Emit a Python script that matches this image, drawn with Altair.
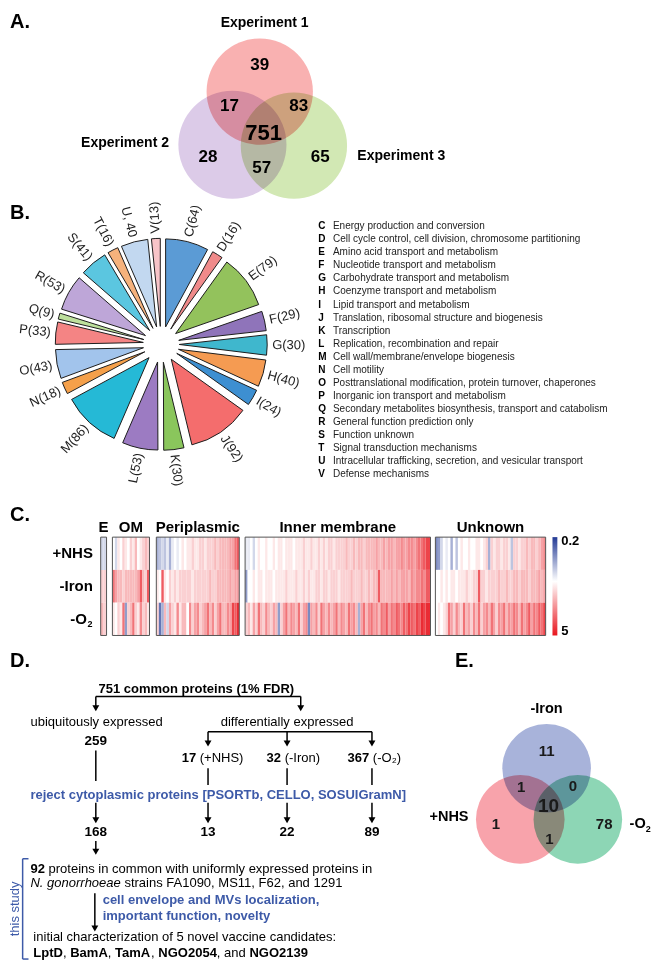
import math
import altair as alt
import pandas as pd

FONT = "Liberation Sans"
# figure coords (660x970 reference) -> chart coords (644x954 plot area inside 8px page margin)
SX, SY = 644 / 660, 954 / 970


def PX(x):
    return x * SX


def PY(y):
    return y * SY


# ---------------- DATA ----------------
# Panel A (Venn of three experiments)
vennA_sets = ["Experiment 1", "Experiment 2", "Experiment 3"]
vennA_counts = [39, 17, 83, 751, 28, 57, 65]  # 1 only, 1&2, 1&3, all, 2 only, 2&3, 3 only

# Panel B (COG categories)
cog_codes = ["C", "D", "E", "F", "G", "H", "I", "J", "K", "L",
             "M", "N", "O", "P", "Q", "R", "S", "T", "U", "V"]
cog_counts = [64, 16, 79, 29, 30, 40, 24, 92, 30, 53,
              86, 18, 43, 33, 9, 53, 41, 16, 40, 13]
cog_names = [
    "Energy production and conversion",
    "Cell cycle control, cell division, chromosome partitioning",
    "Amino acid transport and metabolism",
    "Nucleotide transport and metabolism",
    "Carbohydrate transport and metabolism",
    "Coenzyme transport and metabolism",
    "Lipid transport and metabolism",
    "Translation, ribosomal structure and biogenesis",
    "Transcription",
    "Replication, recombination and repair",
    "Cell wall/membrane/envelope biogenesis",
    "Cell motility",
    "Posttranslational modification, protein turnover, chaperones",
    "Inorganic ion transport and metabolism",
    "Secondary metabolites biosynthesis, transport and catabolism",
    "General function prediction only",
    "Function unknown",
    "Signal transduction mechanisms",
    "Intracellular trafficking, secretion, and vesicular transport",
    "Defense mechanisms",
]
cog_colors = ["#5b9bd5", "#f08a8a", "#93c25c", "#8f74ba", "#3fb7cd", "#f59b52",
              "#3d8fd1", "#f46d6d", "#8ac65c", "#9c7bc2", "#25b9d6", "#f5a04a",
              "#a2c4ec", "#f48484", "#bde09c", "#bea6d8", "#5bc6e0", "#f6b27c",
              "#c2d8f0", "#f8c4c8"]

# Panel C (heatmap, level = 10*log5(ratio): -10 -> 0.2, +10 -> 5)
heat_rows = ["+NHS", "-Iron", "-O2"]
heat_groups = ["E", "OM", "Periplasmic", "Inner membrane", "Unknown"]
E_nhs = [-2, -2]
E_iron = [2, 2]
E_o2 = [3, 2]
OM_nhs = [0, -2, 1, 0, 2, 1, 0, 2, 1, 3, 0, 1, 2, 3, 2]
OM_iron = [6, 4, 3, 3, 2, 3, 3, 3, 3, 3, 4, 7, 3, 2, 7]
OM_o2 = [1, 0, 2, 1, 6, -5, 2, 3, 6, 2, 1, 5, 2, 3, 1]
PE_nhs = [-4, -3, -2, -3, -1, -4, -1, 0, -1, 0, 1, 0, 1, 1, 2, 1, 1, 2, 2, 1,
          2, 2, 2, 3, 2, 3, 3, 3, 3, 4, 4, 6, 7]
PE_iron = [1, 0, 7, 1, 0, 2, 1, 2, 1, 2, 2, 2, 2, 2, 1, 2, 2, 2, 2, 2,
           2, 3, 2, 2, 3, 3, 3, 3, 3, 4, 3, 4, 4]
PE_o2 = [2, -7, -4, 3, -2, 4, 2, 1, 5, 1, 3, 3, 0, 5, 2, 4, 5, 2, 3, 4,
         6, 3, 5, 2, 4, 6, 3, 3, 5, 4, 8, 7, 9]
IM_nhs = [-1, -1, 0, -2, 0, 1, 0, 0, 1, 0, 0, 1, 0, 1, 1, 0, 1, 1, 1, 0,
          1, 1, 1, 2, 1, 1, 2, 1, 1, 2, 1, 2, 1, 2, 2, 1, 2, 2, 2, 2,
          3, 2, 2, 3, 2, 3, 3, 2, 3, 3, 3, 3, 4, 3, 3, 4, 3, 4, 4, 3,
          4, 4, 5, 4, 4, 5, 5, 4, 5, 6, 6, 7, 8, 8]
IM_iron = [-5, 0, 0, 1, 0, 1, 1, 0, 1, 1, 1, 0, 1, 1, 1, 1, 2, 1, 1, 1,
           2, 1, 1, 2, 1, 2, 1, 1, 2, 2, 1, 2, 2, 1, 2, 2, 2, 1, 2, 2,
           2, 2, 3, 2, 2, 2, 3, 2, 2, 3, 2, 3, 3, 7, 3, 3, 3, 3, 4, 3,
           4, 3, 4, 4, 4, 3, 5, 4, 5, 5, 6, 5, 7, 7]
IM_o2 = [2, 3, 1, 4, 2, 6, 3, 2, 5, 3, 2, 4, 3, -5, 2, 4, 6, 3, 5, 4,
         3, 6, 2, 4, 5, -6, 4, 3, 5, 2, 6, 4, 3, 5, 3, 4, 6, 3, 5, 4,
         3, 6, 4, 5, 3, -4, 4, 6, 3, 5, 6, 4, 5, 3, 6, 5, 7, 4, 6, 5,
         7, 6, 5, 7, 6, 8, 7, 6, 8, 7, 9, 8, 9, 9]
UN_nhs = [-6, -5, -2, 0, -1, 0, -4, 0, -3, 0, 1, 0, 0, 1, 0, 0, 1, 1, 0, 1,
          2, -4, 2, 1, 2, 2, 1, 2, 2, 1, -3, 2, 2, 1, 2, 2, 3, 2, 3, 3,
          2, 3, 4, 5]
UN_iron = [0, 0, 1, 0, 1, 0, 1, 1, 0, 1, 1, 1, 2, 1, 1, 2, 2, 7, 2, 2,
           1, 2, 2, 2, 2, 3, 2, 2, 3, 2, 2, 3, 3, 2, 3, 3, 3, 2, 3, 3,
           3, 4, 3, 4]
UN_o2 = [0, 1, 0, 1, 2, 6, 4, 2, 5, 3, 2, 6, 3, 4, 2, 5, 3, 6, 2, 4,
         5, 3, 6, 4, 2, 5, 4, 6, 3, 5, 4, 6, 5, 3, 6, 4, 5, 7, 4, 6,
         5, 7, 6, 8]
heat_scale_labels = ["0.2", "5"]

# Panel D (flow)
flow_total = 751
flow_ubiq, flow_ubiq_kept = 259, 168
flow_diff = [17, 32, 367]
flow_diff_kept = [13, 22, 89]
flow_common = 92

# Panel E (Venn of differential sets)
vennE_sets = ["-Iron", "+NHS", "-O"]
vennE_counts = [11, 1, 0, 10, 1, 78, 1]  # Iron only, Iron&NHS, Iron&O2, all, NHS only, O2 only, NHS&O2

# ---------------- helpers ----------------
AR_N = {' ': 278, '(': 333, ')': 333, '+': 584, '-': 333, ',': 278, '.': 278, ':': 278,
        '%': 889, '[': 278, ']': 278, '₂': 350,
        'A': 667, 'B': 667, 'C': 722, 'D': 722, 'E': 667, 'F': 611, 'G': 778, 'H': 722,
        'I': 278, 'J': 500, 'K': 667, 'L': 556, 'M': 833, 'N': 722, 'O': 778, 'P': 667,
        'R': 722, 'S': 667, 'T': 611, 'U': 722, 'V': 667, 'W': 944,
        'a': 556, 'b': 556, 'c': 500, 'd': 556, 'e': 556, 'f': 278, 'g': 556, 'h': 556,
        'i': 222, 'j': 222, 'k': 500, 'l': 222, 'm': 833, 'n': 556, 'o': 556, 'p': 556,
        'q': 556, 'r': 333, 's': 500, 't': 278, 'u': 556, 'v': 500, 'w': 722, 'x': 500,
        'y': 500, 'z': 500}
AR_B = {' ': 278, '(': 333, ')': 333, '+': 584, '-': 333, ',': 278, '.': 278, ':': 333,
        '%': 889, 'A': 722, 'B': 722, 'C': 722, 'D': 722, 'E': 667, 'F': 611, 'G': 778,
        'H': 722, 'I': 278, 'L': 611, 'M': 833, 'N': 722, 'O': 778, 'P': 667, 'R': 722,
        'S': 667, 'T': 611, 'U': 722, 'a': 556, 'b': 611, 'c': 556, 'd': 611, 'e': 556,
        'f': 333, 'g': 611, 'h': 611, 'i': 278, 'k': 556, 'l': 278, 'm': 889, 'n': 611,
        'o': 611, 'p': 611, 'r': 389, 's': 556, 't': 333, 'u': 611, 'v': 556, 'w': 778,
        'y': 556}


def tw(s, size, bold=False):
    tab = AR_B if bold else AR_N
    return sum(tab.get(ch, 556) for ch in s) * size / 1000.0


texts = []


def T(x, y, t, size=13, bold=False, italic=False, color="#000000", align="left", angle=0.0, raw=False):
    cx = x if raw else PX(x)
    cy = y if raw else PY(y)
    texts.append(dict(x=cx, y=cy, t=str(t), size=size, bold=bold, italic=italic,
                      color=color, align=align, angle=angle % 360))


def segs(x, y, parts, size=13, color="#000000"):
    cx = PX(x)
    for s, st in parts:
        b = st == "b"
        lead = len(s) - len(s.lstrip(" "))
        core = s.strip(" ")
        if core:
            T(cx + tw(" " * lead, size, b), PY(y), core, size, bold=b, italic=(st == "i"),
              color=color, raw=True)
        cx += tw(s, size, b)


rules = []


def R(x1, y1, x2, y2, color="#000000", w=1.5):
    rules.append(dict(x=PX(x1), y=PY(y1), x2=PX(x2), y2=PY(y2), c=color, w=w))


heads = []


def H(x, y):
    heads.append(dict(x=PX(x), y=PY(y) - 4))


BLUE = "#3d5aa8"
layers = []

# ---------------- Panel labels ----------------
for lab, (px, py) in zip(["A.", "B.", "C.", "D.", "E."],
                         [(2, 14), (2, 208), (2, 516), (2, 664), (458, 664)]):
    T(px, py, lab, 20, bold=True)

# ---------------- Panel A: Venn ----------------
circA = pd.DataFrame({
    "x": [PX(293), PX(230), PX(258)],
    "y": [PY(140), PY(139), PY(85)],
    "s": [math.pi * 60 ** 2, math.pi * 61 ** 2, math.pi * 60 ** 2],
    "c": ["#d2e8b4", "#dccbe8", "#f9b1b1"],
    "k": [0, 1, 2],
})
layers.append(alt.Chart(circA).mark_circle(opacity=1, blend="multiply").encode(
    x=alt.X("x:Q", scale=None, axis=None), y=alt.Y("y:Q", scale=None, axis=None),
    size=alt.Size("s:Q", scale=None, legend=None),
    color=alt.Color("c:N", scale=None, legend=None),
    order=alt.Order("k:Q")))
T(263, 15, vennA_sets[0], 14, bold=True, align="center")
T(165, 137, vennA_sets[1], 14, bold=True, align="right")
T(358, 150, vennA_sets[2], 14, bold=True, align="left")
posA = [(258, 58), (227, 100), (298, 100), (262, 127), (205, 152), (260, 163), (320, 152)]
for n, (px, py) in zip(vennA_counts, posA):
    T(px, py, n, 22 if n == 751 else 17, bold=True, align="center")

# ---------------- Panel B: exploded pie ----------------
CX, CY = PX(157), PY(342)
EXPL, RAD, LR = 18, 88, 111
total = sum(cog_counts)
cum = 0
pie_rows = []
for code, n, col in zip(cog_codes, cog_counts, cog_colors):
    t0 = 2 * math.pi * cum / total
    t1 = 2 * math.pi * (cum + n) / total
    mid = (t0 + t1) / 2
    pie_rows.append(dict(code=code, n=n, t0=t0, t1=t1, col=col,
                         ax=CX + EXPL * math.sin(mid), ay=CY - EXPL * math.cos(mid), mid=mid))
    cum += n
pie_df = pd.DataFrame(pie_rows)
for r in pie_rows:
    layers.append(alt.Chart(pie_df).transform_filter(alt.datum.code == r["code"]).mark_arc(
        outerRadius=RAD, innerRadius=0, stroke="#1e1e1e", strokeWidth=1, fill=r["col"],
        opacity=1).encode(
        theta=alt.Theta("t0:Q", scale=None), theta2=alt.Theta2("t1:Q"),
        x=alt.value(r["ax"]), y=alt.value(r["ay"])))
    deg = math.degrees(r["mid"])
    right = deg < 180 or deg > 350
    lab = f"{r['code']}({r['n']})" if r["code"] != "U" else f"{r['code']}, {r['n']}"
    T(CX + LR * math.sin(r["mid"]), CY - LR * math.cos(r["mid"]), lab, 13,
      color="#222222", align="left" if right else "right",
      angle=(deg - 90) if right else (deg - 270), raw=True)

for k, (code, name) in enumerate(zip(cog_codes, cog_names)):
    yy = 222 + 13.25 * k
    T(318, yy, code, 10, bold=True)
    T(333, yy, name, 10, color="#222222")

# ---------------- Panel C: heatmap ----------------
cscale = alt.Scale(domain=[-10, 0, 10], range=["#233a95", "#ffffff", "#e8151d"],
                   interpolate="rgb")
heat_data = {
    "E": [E_nhs, E_iron, E_o2],
    "OM": [OM_nhs, OM_iron, OM_o2],
    "Periplasmic": [PE_nhs, PE_iron, PE_o2],
    "Inner membrane": [IM_nhs, IM_iron, IM_o2],
    "Unknown": [UN_nhs, UN_iron, UN_o2],
}
heat_x = {"E": (95, 101), "OM": (107, 145), "Periplasmic": (152, 237),
          "Inner membrane": (243, 433), "Unknown": (438, 551)}
HY0, HY1 = 538, 638
for g in heat_groups:
    rows = heat_data[g]
    n = len(rows[0])
    recs = []
    for ri, vals in enumerate(rows):
        for i, v in enumerate(vals):
            recs.append(dict(i=i, i2=i + 1, r0=ri, r1=ri + 1, v=v))
    x0, x1 = heat_x[g]
    xs = alt.Scale(domain=[0, n], range=[PX(x0), PX(x1)], nice=False, zero=False)
    ys = alt.Scale(domain=[0, 3], range=[PY(HY0), PY(HY1)], nice=False, zero=False)
    layers.append(alt.Chart(pd.DataFrame(recs)).mark_rect(strokeWidth=0).encode(
        x=alt.X("i:Q", scale=xs, axis=None), x2="i2:Q",
        y=alt.Y("r0:Q", scale=ys, axis=None), y2="r1:Q",
        color=alt.Color("v:Q", scale=cscale, legend=None)))
    layers.append(alt.Chart(pd.DataFrame({"i": [0], "i2": [n], "r0": [0], "r1": [3]})).mark_rect(
        fillOpacity=0, stroke="#555555", strokeWidth=1).encode(
        x=alt.X("i:Q", scale=xs, axis=None), x2="i2:Q",
        y=alt.Y("r0:Q", scale=ys, axis=None), y2="r1:Q"))
    T((x0 + x1) / 2, 528, g, 15, bold=True, align="center")

T(87, 554, heat_rows[0], 15, bold=True, align="right")
T(87, 588, heat_rows[1], 15, bold=True, align="right")
T(81, 621, "-O", 15, bold=True, align="right")
T(81.5, 626, "2", 9, bold=True, align="left")

grad = alt.Gradient(gradient="linear",
                    stops=[alt.GradientStop(color="#233a95", offset=0),
                           alt.GradientStop(color="#ffffff", offset=0.45),
                           alt.GradientStop(color="#e8151d", offset=1)],
                    x1=0, x2=0, y1=0, y2=1)
layers.append(alt.Chart(pd.DataFrame({"a": [0]})).mark_rect(color=grad).encode(
    x=alt.value(PX(558)), x2=alt.value(PX(563)), y=alt.value(PY(HY0)), y2=alt.value(PY(HY1))))
T(567, 542, heat_scale_labels[0], 13, bold=True)
T(567, 633, heat_scale_labels[1], 13, bold=True)

# ---------------- Panel D: flow ----------------
T(193, 692, f"{flow_total} common proteins (1% FDR)", 13, bold=True, align="center")
R(90, 700, 300, 700)
R(90, 700, 90, 712)
R(300, 700, 300, 712)
H(90, 716)
H(300, 716)
T(23, 726, "ubiquitously expressed", 13)
T(218, 726, "differentially expressed", 13)
T(90, 745, flow_ubiq, 13.5, bold=True, align="center")
R(90, 755, 90, 786)
R(205, 736, 373, 736)
diff_x = [205, 286, 373]
diff_lab = [" (+NHS)", " (-Iron)", " (-O₂)"]
diff_start = [178, 265, 348]
for xx, n, lab, sx in zip(diff_x, flow_diff, diff_lab, diff_start):
    R(xx, 736, xx, 748)
    H(xx, 752)
    segs(sx, 763, [(str(n), "b"), (lab, "n")], 13)
    R(xx, 773, xx, 790)
T(23, 800, "reject cytoplasmic proteins [PSORTb, CELLO, SOSUIGramN]", 13, bold=True, color=BLUE)
for xx in [90] + diff_x:
    R(xx, 808, xx, 826)
    H(xx, 830)
T(90, 838, flow_ubiq_kept, 13.5, bold=True, align="center")
for xx, n in zip(diff_x, flow_diff_kept):
    T(xx, 838, n, 13.5, bold=True, align="center")
R(90, 847, 90, 858)
H(90, 862)
R(15, 865, 15, 967, BLUE, 1.5)
R(15, 865, 21, 865, BLUE, 1.5)
R(15, 967, 21, 967, BLUE, 1.5)
T(7, 916, "this study", 13, color=BLUE, align="center", angle=270)
segs(23, 875, [(str(flow_common), "b"),
               (" proteins in common with uniformly expressed proteins in", "n")], 13)
segs(23, 890, [("N. gonorrhoeae", "i"), (" strains FA1090, MS11, F62, and 1291", "n")], 13)
R(89, 900, 89, 936)
H(89, 940)
T(97, 907, "cell envelope and MVs localization,", 13, bold=True, color=BLUE)
T(97, 923, "important function, novelty", 13, bold=True, color=BLUE)
T(26, 945, "initial characterization of 5 novel vaccine candidates:", 13)
segs(26, 961, [("LptD", "b"), (", ", "n"), ("BamA", "b"), (", ", "n"), ("TamA", "b"),
               (", ", "n"), ("NGO2054", "b"), (", and ", "n"), ("NGO2139", "b")], 13)

# ---------------- Panel E: Venn ----------------
circE = pd.DataFrame({
    "x": [PX(552), PX(525), PX(584)],
    "y": [PY(773), PY(825), PY(825)],
    "s": [math.pi * 50 ** 2] * 3,
    "c": ["#a8b3da", "#f8a3ab", "#8dd6b5"],
    "k": [0, 1, 2],
})
layers.append(alt.Chart(circE).mark_circle(opacity=1, blend="multiply").encode(
    x=alt.X("x:Q", scale=None, axis=None), y=alt.Y("y:Q", scale=None, axis=None),
    size=alt.Size("s:Q", scale=None, legend=None),
    color=alt.Color("c:N", scale=None, legend=None),
    order=alt.Order("k:Q")))
T(552, 713, vennE_sets[0], 14.5, bold=True, align="center")
T(472, 823, vennE_sets[1], 14.5, bold=True, align="right")
T(637, 830, vennE_sets[2], 14.5, bold=True, align="left")
T(PX(637) + tw("-O", 14.5, True), PY(835), "2", 9, bold=True, align="left", raw=True)
posE = [(552, 755), (526, 792), (579, 791), (554, 811), (500, 830), (611, 830), (555, 845)]
for k, (n, (px, py)) in enumerate(zip(vennE_counts, posE)):
    T(px, py, n, 19 if k == 3 else 15, bold=True, align="center", color="#1a1a1a")

# ---------------- rules, arrowheads, texts ----------------
layers.append(alt.Chart(pd.DataFrame(rules)).mark_rule(strokeCap="butt").encode(
    x=alt.X("x:Q", scale=None, axis=None), y=alt.Y("y:Q", scale=None, axis=None),
    x2="x2:Q", y2="y2:Q",
    color=alt.Color("c:N", scale=None, legend=None),
    strokeWidth=alt.StrokeWidth("w:Q", scale=None, legend=None)))
layers.append(alt.Chart(pd.DataFrame(heads)).mark_point(
    shape="triangle-down", filled=True, size=48, opacity=1, color="#000000").encode(
    x=alt.X("x:Q", scale=None, axis=None), y=alt.Y("y:Q", scale=None, axis=None)))

tdf = pd.DataFrame(texts)
for (b, it, al), g in tdf.groupby(["bold", "italic", "align"]):
    g = g[["x", "y", "t", "size", "color", "angle"]].reset_index(drop=True)
    layers.append(alt.Chart(g).mark_text(
        font=FONT, fontWeight="bold" if b else "normal",
        fontStyle="italic" if it else "normal", align=al, baseline="middle").encode(
        x=alt.X("x:Q", scale=None, axis=None), y=alt.Y("y:Q", scale=None, axis=None),
        text=alt.Text("t:N"),
        size=alt.Size("size:Q", scale=None, legend=None),
        color=alt.Color("color:N", scale=None, legend=None),
        angle=alt.Angle("angle:Q", scale=None)))

chart = alt.layer(*layers).resolve_scale(
    x="independent", y="independent", color="independent", size="independent",
    theta="independent", angle="independent", strokeWidth="independent"
).properties(
    width=644, height=954, padding=0,
    autosize=alt.AutoSizeParams(type="none")
).configure_view(stroke=None)

chart.save("out.html", embed_options={"renderer": "svg", "actions": False})
